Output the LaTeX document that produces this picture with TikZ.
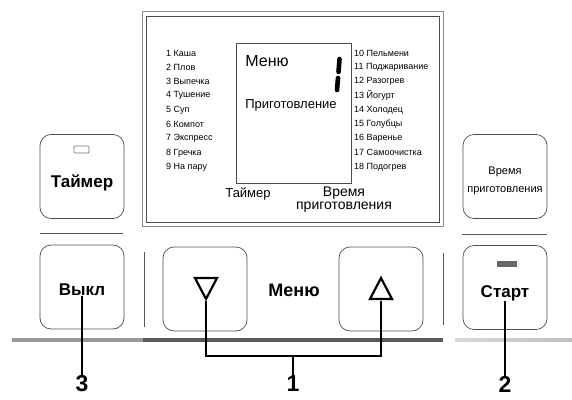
\documentclass[tikz,border=0pt]{standalone}
\usepackage{fontspec}
\setmainfont{Liberation Sans}
\usetikzlibrary{positioning}
\newcommand{\fsz}[1]{\fontsize{#1}{#1}\selectfont}

\tikzset{btn/.style = {shape = rectangle,
                       draw = black!70,
                       line width = 0.7pt,
                       rounded corners = 11pt,
                       minimum width = 84pt,
                       minimum height = 84pt,
                       inner sep = 0pt},
         btext/.style = {font = \fsz{17}\bfseries,
                         inner sep = 0pt},
         item/.style = {anchor = west,
                        font = \fsz{9},
                        inner sep = 0pt},
         lead/.style = {draw = black,
                        line width = 1.7pt},
         num/.style = {font = \fsz{23}\bfseries,
                       inner sep = 0pt}}

\begin{document}
\begin{tikzpicture}[x = 1pt, y = -1pt,
                    sep/.style = {draw = black!65,
                                  line width = 0.9pt},
                    tri/.style = {draw = black,
                                  line width = 2.2pt,
                                  line join = miter}]
		\useasboundingbox (0,0) rectangle (572,399);
		% display frame
		\draw[black!45, line width = 0.6pt] (142,11) rectangle (443,226);
		\draw[black!70, line width = 0.6pt] (146,16) rectangle (439,222);
		\draw[black!70, line width = 0.8pt] (236,43) rectangle (351,183);
		\node[font = \fsz{16}, inner sep = 0pt] (lcdmenu) at (267,61) {Меню};
		\node[font = \fsz{13}, inner sep = 0pt] (lcdcook) at (291,105) {Приготовление};
		\draw[black, line width = 4.6pt, line cap = round] (339.5,59) -- (338.5,72);
		\draw[black, line width = 4.6pt, line cap = round] (338,78) -- (337,90);
		\node[item] (p1) at (166,53) {1 Каша};
		\node[item] (p2) at (166,67.3) {2 Плов};
		\node[item] (p3) at (166,81.5) {3 Выпечка};
		\node[item] (p4) at (166,95.8) {4 Тушение};
		\node[item] (p5) at (166,110) {5 Суп};
		\node[item] (p6) at (166,124.3) {6 Компот};
		\node[item] (p7) at (166,138.5) {7 Экспресс};
		\node[item] (p8) at (166,152.8) {8 Гречка};
		\node[item] (p9) at (166,167) {9 На пару};
		\node[item] (p10) at (354,53) {10 Пельмени};
		\node[item] (p11) at (354,67.3) {11 Поджаривание};
		\node[item] (p12) at (354,81.5) {12 Разогрев};
		\node[item] (p13) at (354,95.8) {13 Йогурт};
		\node[item] (p14) at (354,110) {14 Холодец};
		\node[item] (p15) at (354,124.3) {15 Голубцы};
		\node[item] (p16) at (354,138.5) {16 Варенье};
		\node[item] (p17) at (354,152.8) {17 Самоочистка};
		\node[item] (p18) at (354,167) {18 Подогрев};
		\node[font = \fsz{13}, inner sep = 0pt] (lcdtimer) at (248,194) {Таймер};
		\node[font = \fontsize{14}{13}\selectfont, align = center, inner sep = 0pt] (lcdtime) at (344,200) {Время\\приготовления};
		% base strip
		\draw[black!40, line width = 3.5pt] (12,340) -- (143,340);
		\draw[black!65, line width = 3.5pt] (143,340) -- (443,340);
		\shade[left color = black!15, middle color = black!55, right color = black!25] (455,338.2) rectangle (572,341.8);
		% separators
		\draw[sep] (40,233) -- (123,233);
		\draw[sep] (462,234) -- (547,234);
		\draw[sep] (144,252) -- (144,327);
		\draw[sep] (443,253) -- (443,325);
		% buttons
		\node[btn] (tmr) at (82,176.5) {};
		\node[btn] (off) at (82,287) {};
		\node[btn] (time) at (505,176.5) {};
		\node[btn] (start) at (505,287.5) {};
		\node[btn] (dn) at (205,289) {};
		\node[btn] (up) at (381,289) {};
		\draw[black!55, line width = 0.7pt, rounded corners = 1pt] (74,146) rectangle (89,153);
		\fill[black!60] (497,261) rectangle (517,267);
		\node[btext] (tmrtxt) at (82,183) {Таймер};
		\node[btext] (offtxt) at (82,290) {Выкл};
		\node[btext] (starttxt) at (505,293) {Старт};
		\node[font = \fontsize{11}{18}\selectfont, align = center, inner sep = 0pt] (timetxt) at (505,181) {Время\\приготовления};
		\node[font = \fsz{18}\bfseries, inner sep = 0pt] (menutxt) at (294,290) {Меню};
		\draw[tri] (195,278) -- (217,278) -- (206,299) -- cycle;
		\draw[tri] (370,299) -- (392,299) -- (381,278) -- cycle;
		\coordinate (dntip) at (206,301);
		\coordinate (uptip) at (381,301);
		\coordinate (mid) at (293,356);
		% callouts
		\node[num] (n1) at (293,384) {1};
		\node[num] (n2) at (505,384) {2};
		\node[num] (n3) at (82,384) {3};
		\draw[lead] (dntip) |- (mid) -| (uptip);
		\path[lead] (mid) edge (n1);
		\path[lead] (starttxt) edge (n2);
		\path[lead] (offtxt) edge (n3);
	\end{tikzpicture}
\end{document}
